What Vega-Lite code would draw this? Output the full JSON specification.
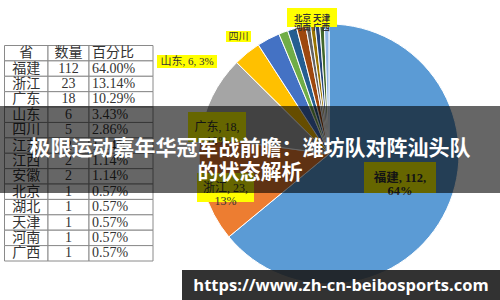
{
  "$schema": "https://vega.github.io/schema/vega-lite/v6.json",
  "width": 500,
  "height": 300,
  "autosize": {"type": "fit", "contains": "padding"},
  "padding": 0,
  "background": "white",
  "config": {"view": {"stroke": null}},
  "datasets": {
    "prov": [
      {"i": 1, "prov": "福建", "n": 112, "label": "福建, 112,\n64%"},
      {"i": 2, "prov": "浙江", "n": 23, "label": "浙江, 23,\n13%"},
      {"i": 3, "prov": "广东", "n": 18, "label": "广东, 18,\n10%"},
      {"i": 4, "prov": "山东", "n": 6, "label": "山东, 6, 3%"},
      {"i": 5, "prov": "四川", "n": 5, "label": "四川"},
      {"i": 6, "prov": "江苏", "n": 2, "label": ""},
      {"i": 7, "prov": "江西", "n": 2, "label": ""},
      {"i": 8, "prov": "安徽", "n": 2, "label": ""},
      {"i": 9, "prov": "北京", "n": 1, "label": "北京 天津\n河南 广西"},
      {"i": 10, "prov": "湖北", "n": 1, "label": ""},
      {"i": 11, "prov": "天津", "n": 1, "label": ""},
      {"i": 12, "prov": "河南", "n": 1, "label": ""},
      {"i": 13, "prov": "广西", "n": 1, "label": ""}
    ],
    "table": [
      {"prov": "省", "n": "数量", "pct": "百分比"},
      {"prov": "福建", "n": "112", "pct": "64.00%"},
      {"prov": "浙江", "n": "23", "pct": "13.14%"},
      {"prov": "广东", "n": "18", "pct": "10.29%"},
      {"prov": "山东", "n": "6", "pct": "3.43%"},
      {"prov": "四川", "n": "5", "pct": "2.86%"},
      {"prov": "江苏", "n": "2", "pct": "1.14%"},
      {"prov": "江西", "n": "2", "pct": "1.14%"},
      {"prov": "安徽", "n": "2", "pct": "1.14%"},
      {"prov": "北京", "n": "1", "pct": "0.57%"},
      {"prov": "湖北", "n": "1", "pct": "0.57%"},
      {"prov": "天津", "n": "1", "pct": "0.57%"},
      {"prov": "河南", "n": "1", "pct": "0.57%"},
      {"prov": "广西", "n": "1", "pct": "0.57%"}
    ]
  },
  "layer": [
    {
      "data": {"name": "table"},
      "mark": {"type": "rect", "fill": "white", "stroke": "#8a8a8a", "strokeWidth": 1},
      "encoding": {
        "x": {"datum": 0, "type": "quantitative", "scale": {"type": "linear", "domain": [0, 1, 2, 3], "range": [4.5, 48, 89, 153], "nice": false, "zero": false}, "axis": null},
        "x2": {"datum": 1},
        "y": {"field": "prov", "type": "nominal", "sort": null, "scale": {"type": "band", "domain": ["省","福建","浙江","广东","山东","四川","江苏","江西","安徽","北京","湖北","天津","河南","广西"], "range": [45.5, 261], "paddingInner": 0, "paddingOuter": 0}, "axis": null}
      }
    },
    {
      "data": {"name": "table"},
      "mark": {"type": "rect", "fill": "white", "stroke": "#8a8a8a", "strokeWidth": 1},
      "encoding": {
        "x": {"datum": 1, "type": "quantitative"},
        "x2": {"datum": 2},
        "y": {"field": "prov", "type": "nominal", "sort": null}
      }
    },
    {
      "data": {"name": "table"},
      "mark": {"type": "rect", "fill": "white", "stroke": "#8a8a8a", "strokeWidth": 1},
      "encoding": {
        "x": {"datum": 2, "type": "quantitative"},
        "x2": {"datum": 3},
        "y": {"field": "prov", "type": "nominal", "sort": null}
      }
    },
    {
      "data": {"name": "table"},
      "mark": {"type": "text", "font": "Liberation Serif, Noto Sans CJK SC", "fontSize": 14, "color": "#333333", "align": "center", "baseline": "middle"},
      "encoding": {
        "x": {"datum": 0.5, "type": "quantitative"},
        "y": {"field": "prov", "type": "nominal", "sort": null},
        "text": {"field": "prov", "type": "nominal"}
      }
    },
    {
      "data": {"name": "table"},
      "mark": {"type": "text", "font": "Liberation Serif, Noto Sans CJK SC", "fontSize": 14, "color": "#333333", "align": "center", "baseline": "middle"},
      "encoding": {
        "x": {"datum": 1.5, "type": "quantitative"},
        "y": {"field": "prov", "type": "nominal", "sort": null},
        "text": {"field": "n", "type": "nominal"}
      }
    },
    {
      "data": {"name": "table"},
      "mark": {"type": "text", "font": "Liberation Serif, Noto Sans CJK SC", "fontSize": 14, "color": "#333333", "align": "left", "baseline": "middle", "dx": 3},
      "encoding": {
        "x": {"datum": 2, "type": "quantitative"},
        "y": {"field": "prov", "type": "nominal", "sort": null},
        "text": {"field": "pct", "type": "nominal"}
      }
    },
    {
      "data": {"name": "prov"},
      "mark": {"type": "arc", "x": 329, "y": 154, "stroke": "white", "strokeWidth": 1},
      "encoding": {
        "theta": {"field": "n", "type": "quantitative", "stack": true},
        "radius": {"value": 130},
        "order": {"field": "i", "type": "quantitative", "sort": "ascending"},
        "color": {"field": "prov", "type": "nominal", "legend": null,
          "scale": {"domain": ["福建","浙江","广东","山东","四川","江苏","江西","安徽","北京","湖北","天津","河南","广西"],
                    "range": ["#5B9BD5","#ED7D31","#A5A5A5","#FFC000","#4472C4","#70AD47","#255E91","#9E480E","#636363","#997300","#264478","#43682B","#8FB4E3"]}}
      }
    },
    {"data": {"values": [{}]}, "mark": {"type": "rect", "x": 364, "x2": 436, "y": 162, "y2": 193, "fill": "#FFFF00"}, "encoding": {}},
    {"data": {"values": [{}]}, "mark": {"type": "rect", "x": 197, "x2": 254, "y": 173, "y2": 202, "fill": "#FFFF00"}, "encoding": {}},
    {"data": {"values": [{}]}, "mark": {"type": "rect", "x": 188, "x2": 246, "y": 112, "y2": 142, "fill": "#FFFF00"}, "encoding": {}},
    {"data": {"values": [{}]}, "mark": {"type": "rect", "x": 157, "x2": 217, "y": 55, "y2": 68, "fill": "#FFFF00"}, "encoding": {}},
    {"data": {"values": [{}]}, "mark": {"type": "rect", "x": 226, "x2": 251, "y": 31, "y2": 42, "fill": "#FFFF00"}, "encoding": {}},
    {"data": {"values": [{}]}, "mark": {"type": "rect", "x": 287, "x2": 337, "y": 8, "y2": 27, "fill": "#FFFF00"}, "encoding": {}},
    {
      "data": {"name": "prov"},
      "transform": [{"filter": "datum.prov == '福建'"}],
      "mark": {"type": "text", "x": 400, "y": 177.5, "lineBreak": "\n", "lineHeight": 13, "font": "Liberation Serif, Noto Sans CJK SC", "fontSize": 12.5, "fontWeight": "bold", "color": "#333333", "align": "center", "baseline": "middle"},
      "encoding": {"text": {"field": "label", "type": "nominal"}}
    },
    {
      "data": {"name": "prov"},
      "transform": [{"filter": "datum.prov == '浙江'"}],
      "mark": {"type": "text", "x": 225.5, "y": 187.5, "lineBreak": "\n", "lineHeight": 13, "font": "Liberation Serif, Noto Sans CJK SC", "fontSize": 12, "color": "#333333", "align": "center", "baseline": "middle"},
      "encoding": {"text": {"field": "label", "type": "nominal"}}
    },
    {
      "data": {"name": "prov"},
      "transform": [{"filter": "datum.prov == '广东'"}],
      "mark": {"type": "text", "x": 217, "y": 127, "lineBreak": "\n", "lineHeight": 14, "font": "Liberation Serif, Noto Sans CJK SC", "fontSize": 12, "color": "#333333", "align": "center", "baseline": "middle"},
      "encoding": {"text": {"field": "label", "type": "nominal"}}
    },
    {
      "data": {"name": "prov"},
      "transform": [{"filter": "datum.prov == '山东'"}],
      "mark": {"type": "text", "x": 187, "y": 61.5, "font": "Liberation Serif, Noto Sans CJK SC", "fontSize": 11, "color": "#333333", "align": "center", "baseline": "middle"},
      "encoding": {"text": {"field": "label", "type": "nominal"}}
    },
    {
      "data": {"name": "prov"},
      "transform": [{"filter": "datum.prov == '四川'"}],
      "mark": {"type": "text", "x": 238.5, "y": 36.5, "font": "Noto Sans CJK SC", "fontSize": 10, "color": "#333333", "align": "center", "baseline": "middle"},
      "encoding": {"text": {"field": "label", "type": "nominal"}}
    },
    {
      "data": {"name": "prov"},
      "transform": [{"filter": "datum.prov == '北京'"}],
      "mark": {"type": "text", "x": 312, "y": 17.5, "lineBreak": "\n", "lineHeight": 9.5, "font": "Noto Sans CJK SC", "fontSize": 8.5, "fontWeight": "bold", "color": "#333333", "align": "center", "baseline": "middle"},
      "encoding": {"text": {"field": "label", "type": "nominal"}}
    },
    {"data": {"values": [{}]}, "mark": {"type": "rect", "x": 0, "x2": 500, "y": 106, "y2": 193, "fill": "#000000", "opacity": 0.6}, "encoding": {}},
    {
      "data": {"values": [{"t": "极限运动嘉年华冠军战前瞻：潍坊队对阵汕头队\n的状态解析"}]},
      "mark": {"type": "text", "x": 250, "y": 149, "lineBreak": "\n", "lineHeight": 24, "font": "Noto Sans CJK SC", "fontSize": 21, "fontWeight": "bold", "color": "white", "align": "center", "baseline": "middle"},
      "encoding": {"text": {"field": "t", "type": "nominal"}}
    },
    {"data": {"values": [{}]}, "mark": {"type": "rect", "x": 182, "x2": 500, "y": 270, "y2": 300, "fill": "#1c1c1c", "opacity": 0.9}, "encoding": {}},
    {
      "data": {"values": [{"t": "https://www.zh-cn-beibosports.com"}]},
      "mark": {"type": "text", "x": 341, "y": 286, "font": "Open Sans", "fontSize": 16.5, "fontWeight": "bold", "color": "white", "align": "center", "baseline": "middle"},
      "encoding": {"text": {"field": "t", "type": "nominal"}}
    }
  ]
}
